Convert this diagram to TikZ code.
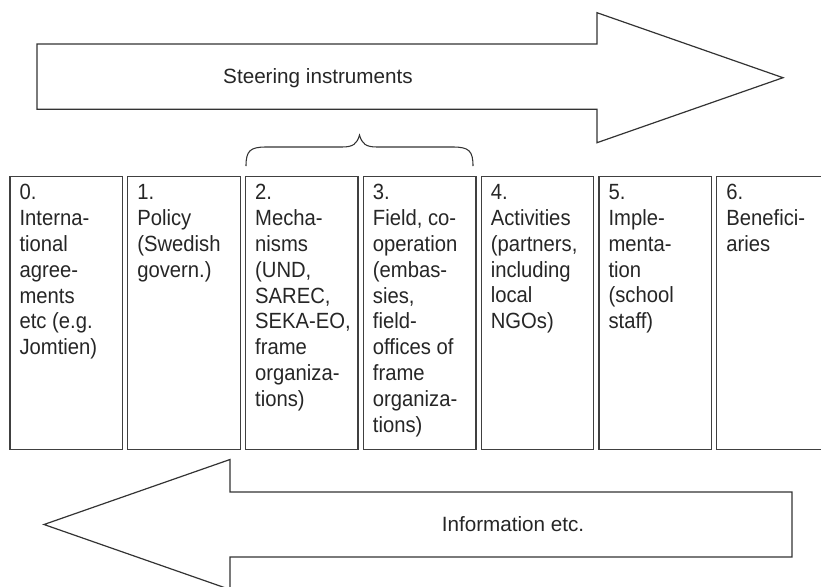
\documentclass[tikz,border=0pt]{standalone}
\usepackage{fontspec}
\setmainfont{Liberation Sans}
\newfontfamily\narrowfont[FakeStretch=0.92]{Liberation Sans}
\begin{document}
\begin{tikzpicture}[x=0.75pt,y=-0.75pt,
  shapeline/.style={draw=black!80, line width=0.9pt, line join=miter},
  colbox/.style={draw=black!75, line width=1pt, minimum width=84.4pt, minimum height=204.75pt, anchor=north west, inner sep=0pt},
  coltext/.style={anchor=north west, align=left, inner sep=0pt, font=\narrowfont\fontsize{16.5}{19.4}\selectfont, text=black!85},
  arrowtext/.style={font=\fontsize{15.5}{18}\selectfont, text=black!85}]
\clip (0,0) rectangle (821,586);

% top arrow
\draw[shapeline] (37,44) -- (597,44) -- (597,12.7) -- (783,77.7) -- (597,142.7) -- (597,109.3) -- (37,109.3) -- cycle;
\node[arrowtext] (steer) at (318,77.7) {Steering instruments};

% bottom arrow
\draw[shapeline] (792,492) -- (230,492) -- (230,459.5) -- (44,524.5) -- (230,589.5) -- (230,557) -- (792,557) -- cycle;
\node[arrowtext] (info) at (513,524.5) {Information etc.};

% brace
\draw[shapeline, line width=0.8pt] (246,166) .. controls (246,151) and (250,147) .. (266,147) -- (342,147) .. controls (353,147) and (357,144) .. (359.5,135) .. controls (362,144) and (366,147) .. (377,147) -- (453,147) .. controls (469,147) and (473,151) .. (473,166);

% columns
\foreach \i/\t in {
  0/{0.\\Interna-\\tional\\agree-\\ments\\etc (e.g.\\Jomtien)},
  1/{1.\\Policy\\(Swedish\\govern.)},
  2/{2.\\Mecha-\\nisms\\(UND,\\SAREC,\\SEKA-EO,\\frame\\organiza-\\tions)},
  3/{3.\\Field, co-\\operation\\(embas-\\sies,\\field-\\offices of\\frame\\organiza-\\tions)},
  4/{4.\\Activities\\(partners,\\including\\local\\NGOs)},
  5/{5.\\Imple-\\menta-\\tion\\(school\\staff)},
  6/{6.\\Benefici-\\aries}}{
  \node[colbox] (box\i) at ({9.3+117.8*\i},176) {};
  \node[coltext] (txt\i) at ({9.3+117.8*\i+10},184) {\t};
}
\end{tikzpicture}
\end{document}
